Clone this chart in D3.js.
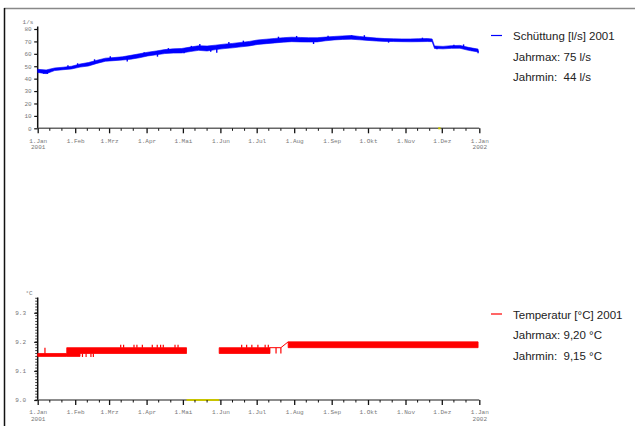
<!DOCTYPE html>
<html lang="de">
<head>
<meta charset="UTF-8">
<title>Schüttung und Temperatur 2001</title>
<style>
  body { margin: 0; background: #fff; }
  svg text { white-space: pre; }
  .tick text { font-family: "Liberation Mono", "DejaVu Sans Mono", monospace; font-size: 6px; fill: #777; }
  .legend text { font-family: "Liberation Sans", Arial, sans-serif; font-size: 11.5px; fill: #222; }
</style>
</head>
<body>
<svg width="635" height="426"></svg>
<script src="https://cdnjs.cloudflare.com/ajax/libs/d3/7.8.5/d3.min.js"></script>
<script>
// month labels on the time axis
var monthNames = ["Jan", "Feb", "Mrz", "Apr", "Mai", "Jun", "Jul", "Aug", "Sep", "Okt", "Nov", "Dez"];

// Schüttung [l/s], day of year 2001, lower / upper edge of the noisy trace
var flowDays = [0, 7, 14, 21, 28, 35, 42, 49, 56, 63, 70, 77, 84, 91, 98, 105, 112, 119, 126, 133, 140, 147,
    154, 161, 168, 175, 182, 189, 196, 203, 210, 217, 224, 231, 238, 245, 252, 259, 266, 273, 280, 287, 294,
    301, 308, 315, 322, 326, 328, 335, 342, 349, 356, 364];
var flowLo = [45.0, 44.0, 46.5, 47.2, 47.8, 49.3, 50.2, 52.3, 54.0, 54.5, 55.0, 55.7, 56.8, 58.3, 59.2, 60.2, 60.6, 60.7,
    61.8, 62.8, 62.3, 63.4, 64.2, 64.8, 65.6, 66.4, 67.6, 68.2, 68.8, 69.4, 69.8, 69.6, 69.5, 69.6, 70.5, 71.2,
    71.6, 71.8, 71.3, 70.8, 70.3, 70.0, 69.9, 69.8, 69.7, 69.8, 69.9, 69.8, 64.3, 64.0, 64.4, 64.5, 62.8, 61.5];
var flowHi = [47.5, 47.0, 48.6, 49.2, 50.0, 51.8, 53.0, 54.8, 56.5, 57.0, 57.6, 58.8, 60.0, 61.3, 62.3, 63.4, 64.0, 64.3,
    65.4, 66.5, 66.3, 67.0, 67.8, 68.4, 69.2, 70.0, 71.2, 71.8, 72.4, 73.0, 73.4, 73.2, 73.0, 73.0, 73.5, 74.0,
    74.4, 74.8, 74.0, 73.3, 72.7, 72.3, 72.1, 72.0, 72.0, 72.2, 72.3, 72.0, 66.3, 66.0, 66.6, 66.8, 65.2, 63.8];
// single outliers of the trace: day and tip value
var flowSpikeDays = [5, 8, 25, 33, 47, 60, 74, 88, 99, 108, 121, 127, 134, 143, 148, 158, 170, 186, 199, 214, 228,
    240, 259.5, 270, 290, 318, 330, 344, 352, 359, 364];
var flowSpikeVals = [44.0, 43.8, 50.8, 52.4, 55.6, 58.0, 53.8, 61.2, 57.7, 64.6, 60.4, 66.4, 67.9, 61.6, 60.9, 69.6, 70.6,
    68.8, 73.8, 74.4, 67.9, 74.6, 74.9, 75.0, 69.0, 73.0, 63.6, 67.4, 67.6, 62.2, 60.4];
var flowGaps = [[331, 333]];
var flowTicks = [0, 10, 20, 30, 40, 50, 60, 70, 80];

// Temperatur [°C]: stepped band, null = no data
var tempDays = [0, 24, 35, 123, 124, 150, 192, 193, 207, 364];
var tempLo = [9.150, 9.150, 9.160, 9.160, null, 9.160, 9.160, null, 9.180, 9.180];
var tempHi = [9.160, 9.180, 9.180, 9.180, null, 9.180, 9.180, null, 9.200, 9.200];
// single spikes: day, from, to
var tempSpikeDays = [6, 37, 40, 44, 46, 68.6, 71, 79.6, 82, 86.5, 94.7, 98.8, 101.6, 103.8, 113.5, 116,
    168.6, 172.7, 177, 182, 188, 190.6, 197, 201];
var tempSpikeFrom = [9.160, 9.160, 9.160, 9.160, 9.160, 9.180, 9.180, 9.180, 9.180, 9.180, 9.180, 9.180, 9.180, 9.180, 9.180, 9.180,
    9.180, 9.180, 9.180, 9.180, 9.180, 9.180, 9.180, 9.180];
var tempSpikeTo = [9.180, 9.148, 9.148, 9.148, 9.148, 9.190, 9.190, 9.190, 9.190, 9.190, 9.190, 9.190, 9.190, 9.190, 9.190, 9.190,
    9.190, 9.190, 9.190, 9.190, 9.190, 9.190, 9.160, 9.160];
// thin connecting trace end of July
var tempLinkDays = [192, 201, 207];
var tempLinkVals = [9.180, 9.180, 9.200];
var tempGaps = [[123, 150]];
var tempTicks = [9.0, 9.1, 9.2, 9.3];

var svg = d3.select("svg");
var t0 = new Date(2001, 0, 1);
function day(d) { return new Date(t0.getTime() + d * 864e5); }

var x = d3.scaleTime()
    .domain([t0, new Date(2002, 0, 1)])
    .range([37.7, 479.3]);

var yFlow = d3.scaleLinear().domain([0, 80]).range([128.3, 29]);
var yTemp = d3.scaleLinear().domain([9.0, 9.3]).range([400, 312.8]);

// window frame
svg.append("line").attr("x1", 4).attr("x2", 635).attr("y1", 8.5).attr("y2", 8.5)
    .attr("stroke", "#888").attr("stroke-width", 1.5);
svg.append("line").attr("x1", 4.5).attr("x2", 4.5).attr("y1", 8).attr("y2", 426)
    .attr("stroke", "#111").attr("stroke-width", 1.5);

function timeAxis(y0, gaps) {
    var g = svg.append("g").attr("transform", "translate(0," + y0 + ")");
    g.append("line").attr("x1", x.range()[0]).attr("x2", x.range()[1])
        .attr("stroke", "#666").attr("stroke-width", 1.5);
    gaps.forEach(function (gp) {
        g.append("line").attr("x1", x(day(gp[0]))).attr("x2", x(day(gp[1])))
            .attr("stroke", "#c8c400").attr("stroke-width", 2);
    });
    // minor ticks on the 11th and 21st
    var minor = [];
    d3.timeMonth.range(t0, new Date(2002, 0, 1)).forEach(function (m) {
        minor.push(new Date(2001, m.getMonth(), 11), new Date(2001, m.getMonth(), 21));
    });
    g.selectAll("line.minor").data(minor).enter().append("line")
        .attr("class", "minor")
        .attr("x1", d => x(d)).attr("x2", d => x(d))
        .attr("y1", 0).attr("y2", 2.5)
        .attr("stroke", "#111").attr("stroke-width", 1);
    var ax = d3.axisBottom(x)
        .tickValues(d3.timeMonth.range(t0, new Date(2002, 0, 2)))
        .tickSize(5).tickSizeOuter(0).tickPadding(5)
        .tickFormat(d => "1." + monthNames[d.getMonth()]);
    g.call(ax);
    g.select(".domain").remove();
    g.selectAll(".tick line").attr("stroke", "#111").attr("stroke-width", 1.3);
    g.selectAll(".tick text").attr("font-family", null).attr("font-size", null)
        .each(function (d) {
            if (d.getMonth() === 0) {
                d3.select(this).append("tspan").attr("x", 0).attr("dy", "1.15em").text(d.getFullYear());
            }
        });
}

function valueAxis(y, ticks, top, labelRight, fmt) {
    var g = svg.append("g").attr("transform", "translate(" + x.range()[0] + ",0)");
    g.append("line").attr("y1", y.range()[0]).attr("y2", top)
        .attr("stroke", "#111").attr("stroke-width", 1.5);
    var ax = d3.axisLeft(y).tickValues(ticks).tickSize(3.5).tickSizeOuter(0)
        .tickPadding(x.range()[0] - labelRight - 3.5).tickFormat(fmt);
    g.call(ax);
    g.select(".domain").remove();
    g.selectAll(".tick line").attr("stroke", "#111").attr("stroke-width", 1.2);
    g.selectAll(".tick text").attr("font-family", null).attr("font-size", null);
    return g;
}

// ---- Schüttung ----
valueAxis(yFlow, flowTicks, 26.5, 31.7, d3.format("d"));
svg.append("text").attr("x", 28).attr("y", 24)
    .attr("text-anchor", "middle")
    .style("font-family", "Liberation Mono, monospace").style("font-size", "6px").style("fill", "#777")
    .text("1/s");
timeAxis(yFlow(0), flowGaps);

var flowArea = d3.area()
    .x((d, i) => x(day(flowDays[i])))
    .y0((d, i) => yFlow(flowLo[i]))
    .y1((d, i) => yFlow(flowHi[i]));
svg.append("path").datum(flowDays)
    .attr("d", flowArea)
    .attr("fill", "#0000ff").attr("stroke", "#0000ff").attr("stroke-width", 0.6);

// spikes start at the middle of the band
var bisect = d3.bisector(d => d).left;
function flowMid(d) {
    var i = Math.min(Math.max(bisect(flowDays, d), 1), flowDays.length - 1);
    var a = flowDays[i - 1], b = flowDays[i], f = (d - a) / (b - a);
    return ((flowLo[i - 1] + flowHi[i - 1]) * (1 - f) + (flowLo[i] + flowHi[i]) * f) / 2;
}
svg.selectAll("line.fspike").data(flowSpikeDays).enter().append("line")
    .attr("class", "fspike")
    .attr("x1", d => x(day(d))).attr("x2", d => x(day(d)))
    .attr("y1", d => yFlow(flowMid(d)))
    .attr("y2", (d, i) => yFlow(flowSpikeVals[i]))
    .attr("stroke", "#0000ff").attr("stroke-width", 1.4);

// ---- Temperatur ----
var tg = valueAxis(yTemp, tempTicks, 297.5, 26, d3.format(".1f"));
tg.selectAll("line.minor").data(d3.range(0, 36).map(i => 9.0 + i * 0.01)).enter().append("line")
    .attr("class", "minor")
    .attr("x1", -2.5).attr("x2", 0)
    .attr("y1", d => yTemp(d)).attr("y2", d => yTemp(d))
    .attr("stroke", "#111").attr("stroke-width", 0.8);
svg.append("text").attr("x", 29).attr("y", 295)
    .attr("text-anchor", "middle")
    .style("font-family", "Liberation Mono, monospace").style("font-size", "6px").style("fill", "#777")
    .text("°C");
timeAxis(yTemp(9.0), tempGaps);

var tempArea = d3.area()
    .defined((d, i) => tempLo[i] !== null)
    .curve(d3.curveStepAfter)
    .x((d, i) => x(day(tempDays[i])))
    .y0((d, i) => yTemp(tempLo[i]))
    .y1((d, i) => yTemp(tempHi[i]));
svg.append("path").datum(tempDays)
    .attr("d", tempArea)
    .attr("fill", "#ff0000").attr("stroke", "#ff0000").attr("stroke-width", 0.8);

svg.selectAll("line.tspike").data(tempSpikeDays).enter().append("line")
    .attr("class", "tspike")
    .attr("x1", d => x(day(d))).attr("x2", d => x(day(d)))
    .attr("y1", (d, i) => yTemp(tempSpikeFrom[i]))
    .attr("y2", (d, i) => yTemp(tempSpikeTo[i]))
    .attr("stroke", "#ff0000").attr("stroke-width", 1.2);

svg.append("path").datum(tempLinkDays)
    .attr("d", d3.line().x(d => x(day(d))).y((d, i) => yTemp(tempLinkVals[i])))
    .attr("fill", "none").attr("stroke", "#ff0000").attr("stroke-width", 1);

// ---- legends ----
function legend(y0, color, lines) {
    var g = svg.append("g").attr("class", "legend");
    g.append("line").attr("x1", 491).attr("x2", 502).attr("y1", y0).attr("y2", y0)
        .attr("stroke", color).attr("stroke-width", 1.2);
    g.selectAll("text").data(lines).enter().append("text")
        .attr("x", 513).attr("y", (d, i) => y0 + 4.5 + i * 20.5)
        .text(d => d);
}
legend(35.5, "#0000ff", ["Schüttung [l/s] 2001", "Jahrmax: 75 l/s", "Jahrmin:  44 l/s"]);
legend(314, "#ff0000", ["Temperatur [°C] 2001", "Jahrmax: 9,20 °C", "Jahrmin:  9,15 °C"]);
</script>
</body>
</html>
